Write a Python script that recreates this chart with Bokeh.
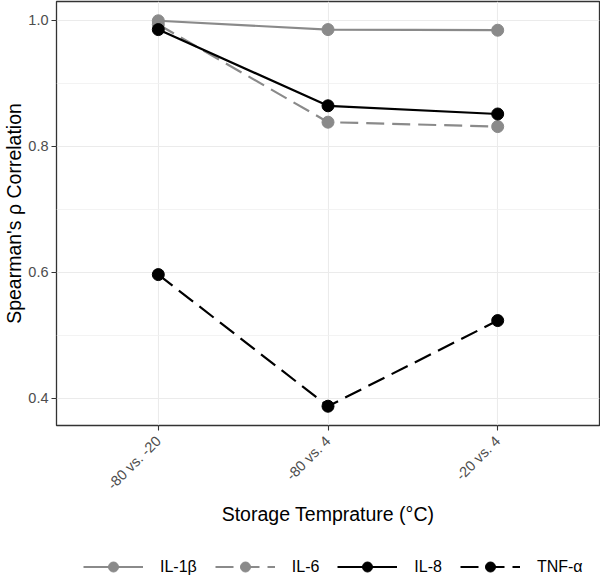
import math
from bokeh.plotting import figure
from bokeh.layouts import column
from bokeh.models import FactorRange, Range1d, FixedTicker, Legend, LegendItem
from bokeh.embed import file_html
from bokeh.resources import INLINE

# ---- data ----
comparisons = ["-80 vs. -20", "-80 vs. 4", "-20 vs. 4"]
il1b = [0.999, 0.985, 0.984]
il6 = [0.993, 0.838, 0.831]
il8 = [0.985, 0.864, 0.851]
tnfa = [0.596, 0.387, 0.523]
series_names = ["IL-1β", "IL-6", "IL-8", "TNF-α"]
y_ticks = [0.4, 0.6, 0.8, 1.0]
y_tick_labels = ["0.4", "0.6", "0.8", "1.0"]
y_minor = [0.5, 0.7, 0.9]

GREY = "#8a8a8a"
series = [
    (series_names[0], il1b, GREY, "solid"),
    (series_names[1], il6, GREY, "18 8"),
    (series_names[2], il8, "black", "solid"),
    (series_names[3], tnfa, "black", "18 8"),
]

all_vals = il1b + il6 + il8 + tnfa
lo, hi = min(all_vals), max(all_vals)
pad = (hi - lo) * 0.05

FONT = "Liberation Sans"
W = 600

p = figure(
    width=W, height=551,
    x_range=FactorRange(factors=comparisons, range_padding=0.1, range_padding_units="absolute"),
    y_range=Range1d(lo - pad, hi + pad),
    output_backend="svg", toolbar_location=None,
    min_border_left=54, min_border_right=1, min_border_top=1, min_border_bottom=126,
)
p.background_fill_color = "white"
p.border_fill_color = "white"
p.outline_line_color = "#333333"
p.outline_line_width = 1.3

# grids
p.xgrid.grid_line_color = "#ebebeb"
p.xgrid.grid_line_width = 1.1
p.ygrid.grid_line_color = "#ebebeb"
p.ygrid.grid_line_width = 1.1
p.ygrid.minor_grid_line_color = "#f0f0f0"
p.ygrid.minor_grid_line_width = 0.8
p.yaxis.ticker = FixedTicker(ticks=y_ticks, minor_ticks=y_minor)
p.yaxis.major_label_overrides = {t: s for t, s in zip(y_ticks, y_tick_labels)}

for ax in (p.xaxis[0], p.yaxis[0]):
    ax.axis_line_color = None
    ax.major_tick_line_color = "#333333"
    ax.major_tick_line_width = 1.1
    ax.major_tick_out = 5
    ax.major_tick_in = 0
    ax.minor_tick_line_color = None
    ax.major_label_text_font = FONT
    ax.major_label_text_font_size = "14.5px"
    ax.major_label_text_color = "#4d4d4d"
    ax.axis_label_text_font = FONT
    ax.axis_label_text_font_size = "19.5px"
    ax.axis_label_text_font_style = "normal"
    ax.axis_label_text_color = "black"

p.xaxis.axis_label = "Storage Temprature (°C)"
p.yaxis.axis_label = "Spearman's ρ Correlation"
p.xaxis.major_label_orientation = math.pi / 4
p.xaxis.major_label_standoff = 8
p.yaxis.major_label_standoff = 3
p.xaxis.axis_label_standoff = 2
p.yaxis.axis_label_standoff = 0

line_rs = []
for name, vals, color, dash in series:
    r = p.line(comparisons, vals, line_color=color, line_width=2.2, line_dash=dash)
    line_rs.append(r)
for name, vals, color, dash in series:
    p.scatter(comparisons, vals, size=12, fill_color=color, line_color=color)

# ---- legend strip ----
lg = figure(
    width=W, height=30, x_range=Range1d(0, 1), y_range=Range1d(0, 1),
    output_backend="svg", toolbar_location=None,
    min_border_left=0, min_border_right=0, min_border_top=0, min_border_bottom=0,
)
lg.axis.visible = False
lg.grid.visible = False
lg.outline_line_color = None
lg.background_fill_color = "white"
lg.border_fill_color = "white"

nan = float("nan")
items = []
for name, vals, color, dash in series:
    lr = lg.line(x=[nan], y=[nan], line_color=color, line_width=2.2, line_dash=dash)
    pr = lg.scatter(x=[nan], y=[nan], size=12, fill_color=color, line_color=color)
    items.append(LegendItem(label=name, renderers=[lr, pr]))

legend = Legend(
    items=items, orientation="horizontal", location=(27, 2),
    glyph_width=60, glyph_height=25, label_standoff=17, spacing=18,
    label_text_font=FONT, label_text_font_size="16px", label_text_color="black",
    border_line_color=None, background_fill_alpha=0, padding=1, margin=0,
)
lg.add_layout(legend, "center")

layout = column(p, lg, spacing=0)
open("out.html", "w").write(file_html(layout, INLINE))
